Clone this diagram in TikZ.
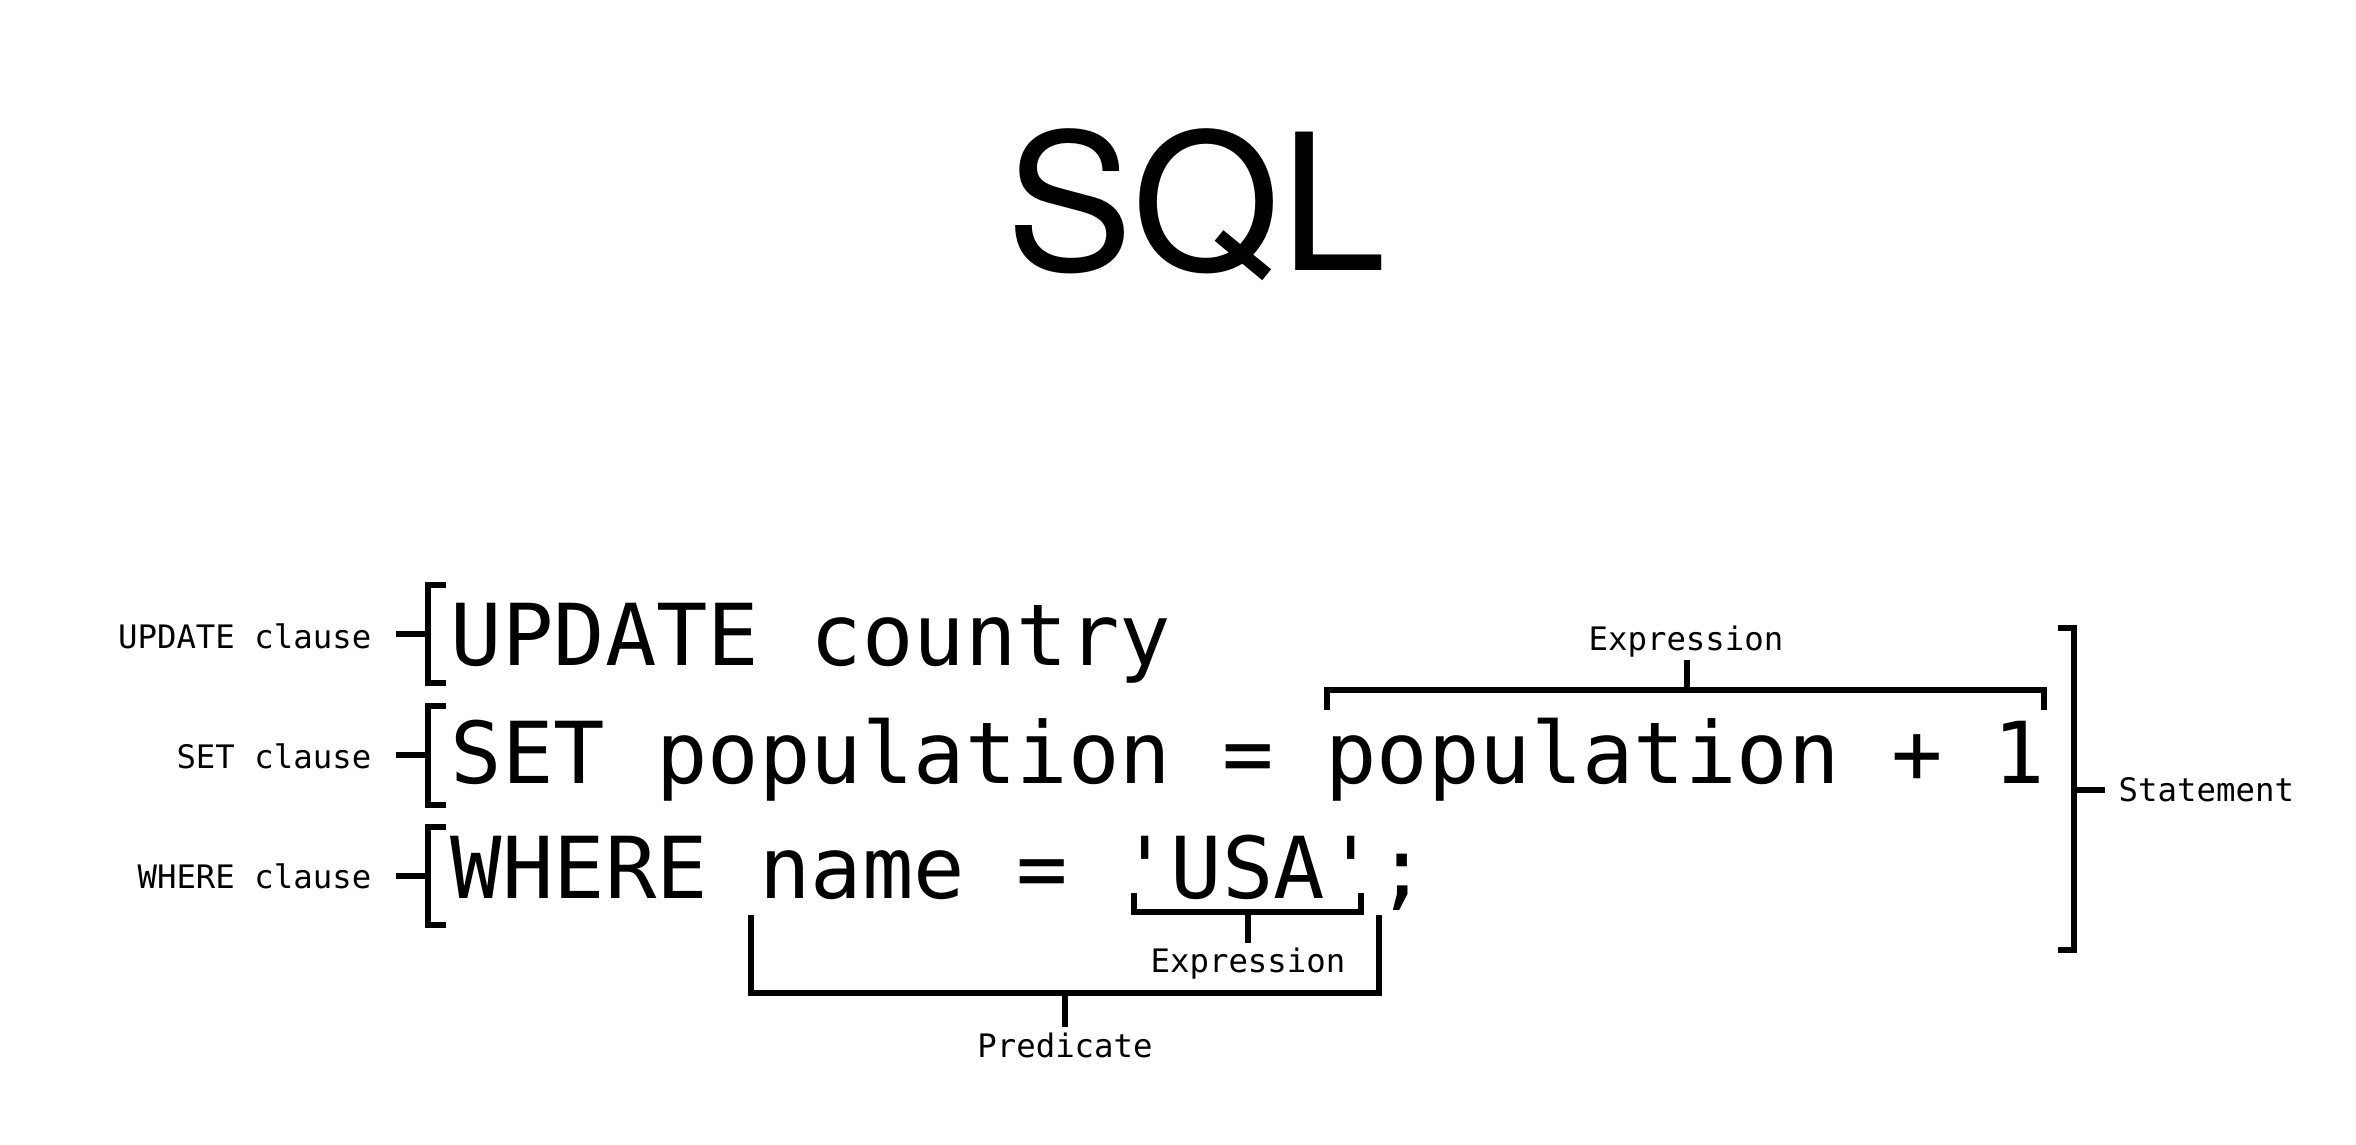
\documentclass[tikz,border=0pt]{standalone}
\usepackage{fontspec}
\newfontfamily\codefont{DejaVu Sans Mono}
\newfontfamily\titlefont{TeX Gyre Heros}
\begin{document}
\begin{tikzpicture}[x=0.01cm,y=-0.01cm,
    code/.style={anchor=base west,inner sep=0pt,font=\codefont\fontsize{24.3}{30}\selectfont},
    note/.style={inner sep=0pt,font=\codefont\fontsize{9.2}{11}\selectfont},
    brk/.style={line width=1.6pt}]
\useasboundingbox (0,0) rectangle (2356,1144);
\node[anchor=base,inner sep=0pt,font=\titlefont\fontsize{54}{60}\selectfont] (title) at (1196,270) {SQL};
% code lines
\node[code] (upd) at (450,665) {UPDATE country};
\node[code] (set) at (450,783) {SET population = population + 1};
\node[code] (whr) at (450,898) {WHERE name = 'USA';};
% clause labels
\node[note,anchor=base east] (updlbl) at (372,648) {UPDATE clause};
\node[note,anchor=base east] (setlbl) at (372,768) {SET clause};
\node[note,anchor=base east] (whrlbl) at (372,888) {WHERE clause};
\draw[brk] (446,585) -- (428,585) -- (428,683) -- (446,683);
\draw[brk] (396,634) -- (428,634);
\draw[brk] (446,706) -- (428,706) -- (428,805) -- (446,805);
\draw[brk] (396,755) -- (428,755);
\draw[brk] (446,827) -- (428,827) -- (428,925) -- (446,925);
\draw[brk] (396,876) -- (428,876);
% statement
\node[note,anchor=west] (stmlbl) at (2118,790) {Statement};
\draw[brk] (2058,628) -- (2074,628) -- (2074,950) -- (2058,950);
\draw[brk] (2074,790) -- (2105,790);
% expression over population + 1
\node[note,anchor=base] (exp1) at (1686,650) {Expression};
\draw[brk] (1327,710) -- (1327,690) -- (2044,690) -- (2044,710);
\draw[brk] (1687,690) -- (1687,660);
% expression under 'USA'
\node[note,anchor=base] (exp2) at (1248,972) {Expression};
\draw[brk] (1134,893) -- (1134,912) -- (1361,912) -- (1361,893);
\draw[brk] (1248,912) -- (1248,943);
% predicate
\node[note,anchor=base] (pred) at (1065,1057) {Predicate};
\draw[brk] (751,915) -- (751,993) -- (1379,993) -- (1379,915);
\draw[brk] (1065,993) -- (1065,1027);
\end{tikzpicture}
\end{document}
